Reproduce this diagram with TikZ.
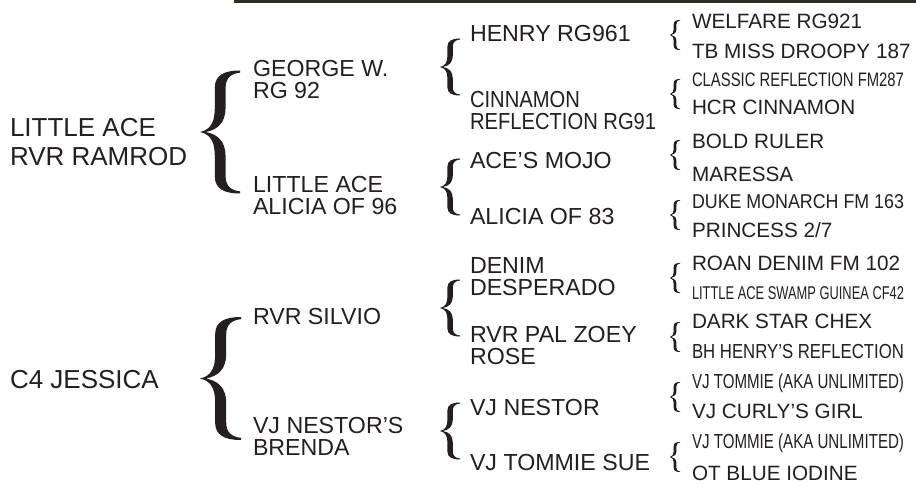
\documentclass[tikz,border=0pt]{standalone}
\usepackage{fontspec}
\setmainfont{Liberation Sans}
\usepackage{graphicx}
\definecolor{ink}{HTML}{231F20}
\definecolor{barcol}{HTML}{2B2F23}
\newcommand\squeeze[1]{\resizebox{212pt}{\height}{#1}}
\newcommand\narrow[1]{\scalebox{0.87}[1]{#1}}
\begin{document}
\begin{tikzpicture}[x=1pt,y=-1pt,
  every node/.style={inner sep=0pt, outer sep=0pt, anchor=west, text=ink},
  gone/.style={font=\fontsize{26}{29}\selectfont, align=left},
  gtwo/.style={font=\fontsize{23.2}{22}\selectfont, align=left},
  gfour/.style={font=\fontsize{20.7}{22}\selectfont, text height=14.8pt, text depth=0pt},
  capone/.style={text height=18.6pt, text depth=0pt},
  captwo/.style={text height=16.6pt, text depth=0pt},
  curlybrace/.pic={
    \fill[ink] (0,0) .. controls (0.3,0.04) and (0.37,0.2) .. (0.37,0.4)
      -- (0.37,0.72) .. controls (0.37,0.93) and (0.62,1) .. (1,1)
      -- (1,0.965) .. controls (0.78,0.95) and (0.64,0.88) .. (0.64,0.72)
      -- (0.64,0.4) .. controls (0.64,0.16) and (0.45,0.035) .. (0.14,0)
      .. controls (0.45,-0.035) and (0.64,-0.16) .. (0.64,-0.4)
      -- (0.64,-0.72) .. controls (0.64,-0.88) and (0.78,-0.95) .. (1,-0.965)
      -- (1,-1) .. controls (0.62,-1) and (0.37,-0.93) .. (0.37,-0.72)
      -- (0.37,-0.4) .. controls (0.37,-0.2) and (0.3,-0.04) .. (0,0) -- cycle;
  }
]
\useasboundingbox[fill=white] (0,0) rectangle (916,489);
\fill[barcol] (234,0) rectangle (916,3);

% generation 1
\node[gone] (a1) at (10,142) {LITTLE ACE\\RVR RAMROD};
\node[gone,capone] (a2) at (10,379) {C4 JESSICA};
\pic[xscale=40,yscale=61.5] at (200,132) {curlybrace};
\pic[xscale=41,yscale=61.5] at (200,378.5) {curlybrace};

% generation 2
\node[gtwo] (b1) at (253,80) {GEORGE W.\\RG 92};
\node[gtwo] (b2) at (253,196) {LITTLE ACE\\ALICIA OF 96};
\node[gtwo,captwo] (b3) at (253,316) {RVR SILVIO};
\node[gtwo] (b4) at (253,436) {VJ NESTOR’S\\BRENDA};
\pic[xscale=20,yscale=28.5] at (440,67) {curlybrace};
\pic[xscale=20,yscale=28.5] at (440,187) {curlybrace};
\pic[xscale=20,yscale=28.5] at (440,308) {curlybrace};
\pic[xscale=20,yscale=28.5] at (440,431) {curlybrace};

% generation 3
\node[gtwo,captwo] (c1) at (470,33.5) {HENRY RG961};
\node[gtwo] (c2) at (470,110.5) {\narrow{CINNAMON}\\\narrow{REFLECTION RG91}};
\node[gtwo,captwo] (c3) at (470,160) {ACE’S MOJO};
\node[gtwo,captwo] (c4) at (470,216) {ALICIA OF 83};
\node[gtwo] (c5) at (470,276.5) {DENIM\\DESPERADO};
\node[gtwo] (c6) at (470,345.5) {RVR PAL ZOEY\\ROSE};
\node[gtwo,captwo] (c7) at (470,407) {VJ NESTOR};
\node[gtwo,captwo] (c8) at (470,462) {VJ TOMMIE SUE};
\foreach \yy in {35,94,155,215,278,337,397,457}
  \pic[xscale=10,yscale=15] at (670,\yy) {curlybrace};

% generation 4
\node[gfour] (d1) at (692,21) {WELFARE RG921};
\node[gfour] (d2) at (692,51) {TB MISS DROOPY 187};
\node[gfour] (d3) at (692,79) {\fontsize{19.5}{22}\selectfont\squeeze{CLASSIC REFLECTION FM287}};
\node[gfour] (d4) at (692,107) {HCR CINNAMON};
\node[gfour] (d5) at (692,141) {BOLD RULER};
\node[gfour] (d6) at (692,174) {MARESSA};
\node[gfour] (d7) at (692,201) {\fontsize{20}{22}\selectfont\squeeze{DUKE MONARCH FM 163}};
\node[gfour] (d8) at (692,230) {PRINCESS 2/7};
\node[gfour] (d9) at (692,263) {ROAN DENIM FM 102};
\node[gfour] (d10) at (692,292) {\fontsize{18.5}{22}\selectfont\squeeze{LITTLE ACE SWAMP GUINEA CF42}};
\node[gfour] (d11) at (692,321) {DARK STAR CHEX};
\node[gfour] (d12) at (692,351) {\fontsize{20.3}{22}\selectfont\squeeze{BH HENRY’S REFLECTION}};
\node[gfour] (d13) at (692,381) {\fontsize{20.3}{22}\selectfont\squeeze{VJ TOMMIE (AKA UNLIMITED)}};
\node[gfour] (d14) at (692,411) {VJ CURLY’S GIRL};
\node[gfour] (d15) at (692,441) {\fontsize{20.3}{22}\selectfont\squeeze{VJ TOMMIE (AKA UNLIMITED)}};
\node[gfour] (d16) at (692,473) {OT BLUE IODINE};
\end{tikzpicture}
\end{document}
